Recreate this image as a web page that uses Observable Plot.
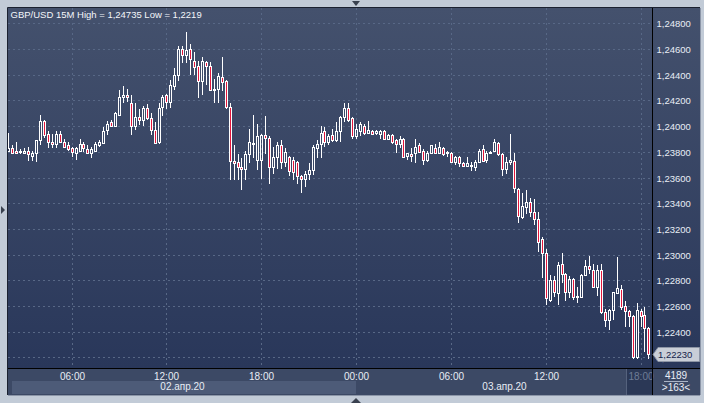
<!DOCTYPE html>
<html><head><meta charset="utf-8">
<script src="https://cdn.jsdelivr.net/npm/d3@7"></script>
<script src="https://cdn.jsdelivr.net/npm/@observablehq/plot@0.6"></script>
<style>
html,body{margin:0;padding:0;background:#c2cbd7;}
#chart svg{display:block;}
</style></head><body><div id="chart"></div>
<script>
const titleText = "GBP/USD 15M High = 1,24735 Low = 1,2219";
const startTime = Date.UTC(2020, 3, 2, 2, 0);
const barMinutes = 15;

const opens = [1.2381,1.2383,1.2381,1.2380,1.2379,1.2381,1.2377,1.2379,1.2389,1.2404,
1.2394,1.2388,1.2386,1.2394,1.2388,1.2385,1.2383,1.2379,1.2381,1.2386,
1.2382,1.2379,1.2381,1.2385,1.2387,1.2397,1.2403,1.2400,1.2409,1.2423,1.2424,
1.2418,1.2400,1.2407,1.2405,1.2414,1.2406,1.2397,1.2388,1.2415,1.2424,
1.2419,1.2431,1.2440,1.2460,1.2455,1.2460,1.2451,1.2447,1.2435,1.2450,
1.2447,1.2428,1.2429,1.2438,1.2435,1.2415,1.2373,1.2372,1.2368,1.2367,
1.2378,1.2386,1.2374,1.2374,1.2393,1.2391,1.2368,1.2376,1.2385,1.2372,
1.2376,1.2374,1.2372,1.2361,1.2359,1.2363,1.2366,1.2383,1.2386,1.2396,
1.2388,1.2393,1.2389,1.2396,1.2407,1.2414,1.2406,1.2392,1.2396,1.2400,
1.2395,1.2396,1.2395,1.2394,1.2396,1.2390,1.2393,1.2389,1.2386,1.2390,
1.2377,1.2378,1.2379,1.2385,1.2381,1.2374,1.2379,1.2383,1.2379,1.2383,
1.2380,1.2379,1.2372,1.2376,1.2371,1.2369,1.2370,1.2368,1.2372,1.2382,
1.2374,1.2379,1.2381,1.2387,1.2378,1.2367,1.2372,1.2373,1.2351,1.2329,
1.2337,1.2341,1.2333,1.2328,1.2312,1.2301,1.2265,1.2280,1.2270,1.2293,
1.2285,1.2271,1.2281,1.2267,1.2267,1.2284,1.2291,1.2288,1.2275,1.2288,
1.2255,1.2249,1.2257,1.2270,1.2273,1.2260,1.2256,1.2252,1.2220,1.2256,
1.2253,1.2243];

const highs = [1.2395,1.2385,1.2388,1.2382,1.2383,1.2384,1.2381,1.2389,1.2409,1.2405,
1.2396,1.2394,1.2396,1.2396,1.2390,1.2388,1.2384,1.2384,1.2390,1.2388,
1.2385,1.2384,1.2388,1.2389,1.2399,1.2404,1.2405,1.2411,1.2428,1.2431,1.2429,
1.2424,1.2418,1.2413,1.2416,1.2417,1.2410,1.2403,1.2418,1.2424,1.2425,
1.2436,1.2445,1.2462,1.2462,1.24735,1.2464,1.2458,1.2451,1.2454,1.2451,
1.2450,1.2437,1.2441,1.2454,1.2436,1.2418,1.2385,1.2378,1.2375,1.2381,
1.2398,1.2409,1.2402,1.2394,1.2408,1.2392,1.2384,1.2388,1.2389,1.2383,
1.2377,1.2376,1.2373,1.2362,1.2365,1.2371,1.2385,1.2389,1.2400,1.2399,
1.2394,1.2398,1.2403,1.2408,1.2418,1.2418,1.2407,1.2402,1.2403,1.2402,
1.2404,1.2397,1.2397,1.2397,1.2397,1.2394,1.2394,1.2390,1.2392,1.2391,
1.2379,1.2383,1.2390,1.2387,1.2382,1.2381,1.2385,1.2386,1.2388,1.2384,
1.2381,1.2380,1.2377,1.2377,1.2372,1.2376,1.2372,1.2374,1.2382,1.2385,
1.2381,1.2381,1.2390,1.2388,1.2379,1.2376,1.2394,1.2379,1.2352,1.2348,
1.2350,1.2344,1.2343,1.2333,1.2314,1.2304,1.2284,1.2283,1.2294,1.2301,
1.2286,1.2283,1.2282,1.2275,1.2285,1.2296,1.2299,1.2293,1.2292,1.2293,
1.2258,1.2258,1.2271,1.2298,1.2276,1.2264,1.2257,1.2253,1.2262,1.2258,
1.2259,1.2244];

const lows = [1.2380,1.2378,1.2378,1.2378,1.2378,1.2373,1.2373,1.2372,1.2385,1.2391,
1.2383,1.2383,1.2383,1.2387,1.2383,1.2381,1.2376,1.2374,1.2380,1.2380,
1.2378,1.2375,1.2380,1.2384,1.2386,1.2393,1.2399,1.2399,1.2408,1.2418,1.2419,
1.2393,1.2397,1.2401,1.2400,1.2405,1.2393,1.2386,1.2386,1.2408,1.2413,
1.2414,1.2428,1.2435,1.2449,1.2449,1.2440,1.2440,1.2422,1.2424,1.2432,
1.2427,1.2418,1.2418,1.2427,1.2413,1.2358,1.2358,1.2358,1.2350,1.2358,
1.2371,1.2375,1.2366,1.2359,1.2378,1.2355,1.2363,1.2367,1.2367,1.2368,
1.2361,1.2358,1.2355,1.2348,1.2353,1.2358,1.2362,1.2375,1.2375,1.2384,
1.2385,1.2388,1.2388,1.2388,1.2403,1.2403,1.2390,1.2390,1.2392,1.2393,
1.2394,1.2393,1.2393,1.2390,1.2389,1.2389,1.2386,1.2379,1.2383,1.2376,
1.2374,1.2372,1.2371,1.2379,1.2370,1.2372,1.2378,1.2378,1.2378,1.2377,
1.2376,1.2371,1.2370,1.2368,1.2368,1.2368,1.2365,1.2365,1.2371,1.2372,
1.2371,1.2378,1.2380,1.2377,1.2361,1.2363,1.2370,1.2348,1.2325,1.2328,
1.2332,1.2329,1.2323,1.2302,1.2282,1.2261,1.2263,1.2267,1.2261,1.2278,
1.2264,1.2266,1.2265,1.2262,1.2266,1.2283,1.2285,1.2274,1.2268,1.2254,
1.2244,1.2241,1.2249,1.2269,1.2257,1.2244,1.2244,1.2219,1.2219,1.2244,
1.2224,1.2219];

const closes = [1.2383,1.2379,1.2379,1.2381,1.2381,1.2378,1.2379,1.2389,1.2404,1.2393,
1.2388,1.2386,1.2394,1.2388,1.2384,1.2382,1.2380,1.2383,1.2386,1.2383,
1.2379,1.2382,1.2386,1.2388,1.2396,1.2402,1.2400,1.2410,1.2423,1.2424,1.2423,
1.2400,1.2407,1.2405,1.2414,1.2406,1.2397,1.2387,1.2414,1.2423,1.2419,
1.2432,1.2440,1.2460,1.2455,1.2459,1.2452,1.2446,1.2435,1.2451,1.2447,
1.2428,1.2429,1.2439,1.2434,1.2415,1.2373,1.2371,1.2368,1.2367,1.2378,
1.2388,1.2387,1.2392,1.2393,1.2391,1.2368,1.2376,1.2385,1.2372,1.2380,
1.2365,1.2364,1.2361,1.2359,1.2363,1.2366,1.2384,1.2386,1.2395,1.2388,
1.2392,1.2389,1.2396,1.2407,1.2414,1.2405,1.2392,1.2398,1.2402,1.2395,
1.2397,1.2394,1.2396,1.2396,1.2390,1.2393,1.2388,1.2386,1.2390,1.2376,
1.2379,1.2377,1.2384,1.2380,1.2374,1.2379,1.2385,1.2379,1.2384,1.2378,
1.2379,1.2372,1.2376,1.2371,1.2369,1.2371,1.2369,1.2372,1.2381,1.2373,
1.2379,1.2380,1.2388,1.2378,1.2367,1.2372,1.2374,1.2352,1.2330,1.2338,
1.2341,1.2333,1.2328,1.2310,1.2301,1.2266,1.2280,1.2271,1.2292,1.2285,
1.2271,1.2281,1.2267,1.2268,1.2284,1.2291,1.2289,1.2275,1.2288,1.2255,
1.2249,1.2257,1.2271,1.2274,1.2259,1.2256,1.2252,1.2220,1.2257,1.2252,
1.2243,1.2223];

const priceTicks = [1.222,1.224,1.226,1.228,1.230,1.232,1.234,1.236,1.238,1.240,1.242,1.244,1.246,1.248];
const timeTicks = ["2020-04-02T06:00Z","2020-04-02T12:00Z","2020-04-02T18:00Z","2020-04-03T00:00Z","2020-04-03T06:00Z","2020-04-03T12:00Z","2020-04-03T18:00Z"];
const dayStarts = ["2020-04-02T00:00Z","2020-04-03T00:00Z","2020-04-04T00:00Z"];
const dateLabels = ["02.апр.20","03.апр.20"];
const lastPriceLabel = "1,22230";
const barCountLabels = ["4189", ">163<"];

const fmtPrice = d => d.toFixed(5).replace(".", ",");
const fmtTime = d3.utcFormat("%H:%M");
const bar = barMinutes * 60000;

const candles = opens.map((o, i) => {
  const c = closes[i];
  return {t: new Date(startTime + i * bar), open: o, close: c,
    high: Math.max(highs[i], o, c), low: Math.min(lows[i], o, c),
    top: Math.max(o, c), bottom: Math.min(o, c)};
});
const up = candles.filter(d => d.close >= d.open);
const down = candles.filter(d => d.close < d.open);

const xStart = new Date(startTime - 0.1 * bar);
const xEnd = new Date(startTime + (opens.length - 0.1) * bar);
const yDomain = [1.22118, 1.24919];
const tickDates = timeTicks.map(d => new Date(d));
const days = dayStarts.map(d => new Date(d));

const NS = "http://www.w3.org/2000/svg";
function el(tag, attrs, text) {
  const e = document.createElementNS(NS, tag);
  for (const k in attrs) e.setAttribute(k, attrs[k]);
  if (text != null) e.textContent = text;
  return e;
}

const WHITE = "#ffffff", RED = "#e3163c", GRID = "#586886";
const FONT = "'Liberation Sans', Arial, sans-serif";
const FS = 9;

function background(index, scales, values, dim) {
  const g = el("g", {});
  const L = dim.marginLeft, T = dim.marginTop, B = dim.height - dim.marginBottom;
  const defs = el("defs", {});
  const lg = el("linearGradient", {id: "bgGrad", gradientUnits: "userSpaceOnUse", x1: 0, y1: T, x2: 0, y2: B});
  lg.appendChild(el("stop", {offset: "0", "stop-color": "#44516d"}));
  lg.appendChild(el("stop", {offset: "1", "stop-color": "#29375a"}));
  defs.appendChild(lg);
  g.appendChild(defs);
  g.appendChild(el("rect", {x: 0, y: 0, width: dim.width, height: dim.height, fill: "#c2cbd7"}));
  g.appendChild(el("rect", {x: L, y: T, width: dim.width - 4 - L, height: B - T, fill: "url(#bgGrad)"}));
  g.appendChild(el("rect", {x: L, y: B, width: dim.width - 4 - L, height: 27, fill: "#3c4965"}));
  const mid = scales.x(days[1]);
  g.appendChild(el("rect", {x: L + 4, y: B + 13, width: mid - L - 4, height: 13, fill: "#4d5b78"}));
  return g;
}

function overlay(index, scales, values, dim) {
  const g = el("g", {"text-anchor": "start"});
  const L = dim.marginLeft, T = dim.marginTop, R = dim.width - dim.marginRight, B = dim.height - dim.marginBottom;
  const W = dim.width;
  const lastTick = tickDates[tickDates.length - 1];
  const xl = scales.x(lastTick) - 15;
  g.appendChild(el("rect", {x: xl, y: B + 0.5, width: R - xl, height: 26, fill: "#2b3856"}));
  g.appendChild(el("line", {x1: xl + 0.5, y1: B, x2: xl + 0.5, y2: B + 27, stroke: "#55627d"}));
  g.appendChild(el("text", {x: scales.x(lastTick), y: B + 12, "text-anchor": "middle", fill: "#6f7c96", "font-size": FS + 1, "font-family": FONT}, fmtTime(lastTick)));
  g.appendChild(el("line", {x1: L - 0.5, y1: T - 0.5, x2: W - 4, y2: T - 0.5, stroke: "#1b2130"}));
  g.appendChild(el("line", {x1: L - 0.5, y1: T - 0.5, x2: L - 0.5, y2: B + 27, stroke: "#1b2130"}));
  g.appendChild(el("line", {x1: L, y1: B + 0.5, x2: W - 4, y2: B + 0.5, stroke: "#000"}));
  g.appendChild(el("line", {x1: R + 0.5, y1: T, x2: R + 0.5, y2: B + 27, stroke: "#000"}));
  g.appendChild(el("line", {x1: L, y1: B + 27.5, x2: W - 4, y2: B + 27.5, stroke: "#8c96a8"}));
  g.appendChild(el("line", {x1: W - 3.5, y1: T, x2: W - 3.5, y2: B + 27, stroke: "#8c96a8"}));
  const cx = (R + W - 4) / 2;
  g.appendChild(el("text", {x: cx, y: B + 11, "text-anchor": "middle", fill: "#e8edf5", "font-size": FS + 1, "font-family": FONT}, barCountLabels[0]));
  g.appendChild(el("line", {x1: cx - 12, y1: B + 13.5, x2: cx + 12, y2: B + 13.5, stroke: "#aab4c6"}));
  g.appendChild(el("text", {x: cx, y: B + 23, "text-anchor": "middle", fill: "#e8edf5", "font-size": FS + 1, "font-family": FONT}, barCountLabels[1]));
  const yp = Math.round(scales.y(closes[closes.length - 1])) + 0.5;
  const x0 = R + 1;
  g.appendChild(el("path", {d: `M${x0},${yp} L${x0 + 5},${yp - 7} L${W - 4.5},${yp - 7} L${W - 4.5},${yp + 7} L${x0 + 5},${yp + 7} Z`, fill: "#c9ced7", stroke: "#8d95a5"}));
  g.appendChild(el("text", {x: x0 + 5, y: yp + 3.5, "text-anchor": "start", fill: "#14224a", "font-size": FS + 0.5, "font-family": FONT}, lastPriceLabel));
  const tx = scales.x(days[1]);
  g.appendChild(el("path", {d: `M${tx - 4},1 L${tx + 4},1 L${tx},6 Z`, fill: "#39414f"}));
  g.appendChild(el("path", {d: `M${tx - 5},${dim.height} L${tx + 5},${dim.height} L${tx},${dim.height - 5} Z`, fill: "#39414f"}));
  const ym = (T + B) / 2 + 22;
  g.appendChild(el("path", {d: `M1,${ym - 4} L1,${ym + 4} L5,${ym} Z`, fill: "#39414f"}));
  return g;
}

const dayMid = dateLabels.map((label, i) => {
  const a = Math.max(+days[i], +xStart), b = Math.min(+days[i + 1], +xEnd);
  return {x: new Date((a + b) / 2), label};
});

const crisp = {shapeRendering: "crispEdges", clip: true};

const chart = Plot.plot({
  width: 704, height: 403,
  marginLeft: 8, marginRight: 52, marginTop: 8, marginBottom: 35,
  x: {type: "utc", domain: [xStart, xEnd], round: true},
  y: {domain: yDomain, round: true},
  style: {background: "#c2cbd7", color: "#e8edf5", fontFamily: FONT, fontSize: "10px", overflow: "visible"},
  marks: [
    background,
    Plot.ruleY(priceTicks, {y: d => d, stroke: GRID, strokeDasharray: "2,3", shapeRendering: "crispEdges"}),
    Plot.ruleX(tickDates, {x: d => d, stroke: GRID, strokeDasharray: "2,3", shapeRendering: "crispEdges"}),
    Plot.ruleX(candles, {x: "t", y1: "high", y2: "top", stroke: WHITE, ...crisp}),
    Plot.ruleX(candles, {x: "t", y1: "bottom", y2: "low", stroke: WHITE, ...crisp}),
    Plot.rect(up, {x1: "t", x2: "t", y1: "open", y2: "close", insetLeft: -1, insetRight: -1, fill: "none", stroke: WHITE, ...crisp}),
    Plot.rect(down, {x1: "t", x2: "t", y1: "open", y2: "close", insetLeft: -1, insetRight: -1, fill: RED, stroke: WHITE, ...crisp}),
    Plot.axisY({ticks: priceTicks, anchor: "right", tickSize: 0, tickPadding: 4, tickFormat: fmtPrice, label: null, fontSize: FS + 0.5}),
    Plot.axisX({ticks: tickDates.slice(0, -1), anchor: "bottom", tickSize: 0, tickPadding: 4, tickFormat: fmtTime, label: null, fontSize: FS + 1}),
    Plot.text(dayMid, {x: "x", text: "label", frameAnchor: "bottom", lineAnchor: "top", dy: 14, fill: "#e8edf5", fontSize: FS + 1}),
    Plot.text([titleText], {text: d => d, frameAnchor: "top-left", textAnchor: "start", lineAnchor: "top", dx: 2, dy: 3, fill: "#f4f6fa", fontSize: FS + 0.5}),
    overlay
  ]
});
document.getElementById("chart").appendChild(chart);
</script>
</body></html>
